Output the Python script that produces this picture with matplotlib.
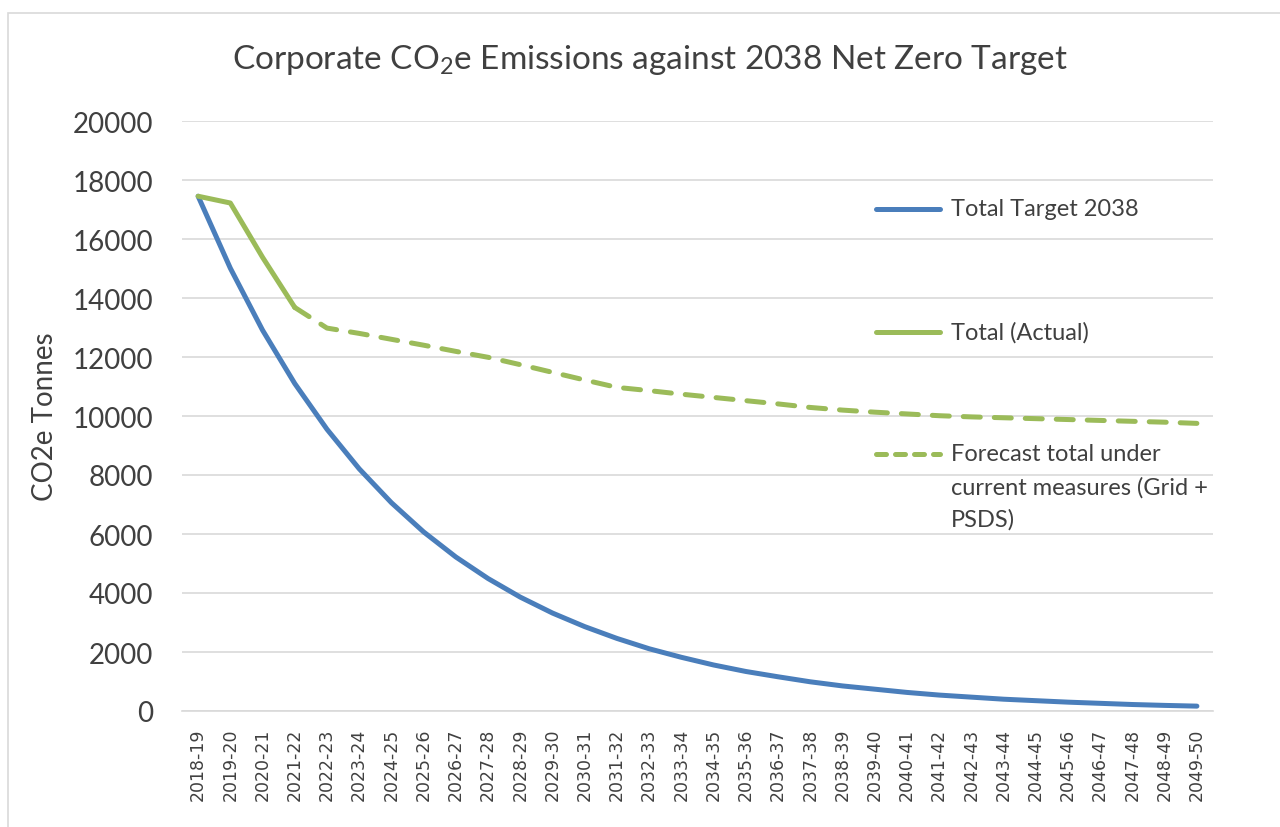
import matplotlib
matplotlib.use('Agg')
import matplotlib.pyplot as plt
from matplotlib.lines import Line2D
from matplotlib.patches import Rectangle

# financial years on the category axis
years = [f"{y}-{str(y + 1)[2:]}" for y in range(2018, 2050)]

# Total Target 2038
target = [17450, 15010, 12910, 11100, 9550, 8210, 7060, 6070, 5220, 4490,
          3860, 3320, 2860, 2460, 2110, 1820, 1560, 1340, 1160, 990,
          850, 740, 630, 540, 470, 400, 350, 300, 260, 220, 190, 165]

# Total (Actual) - only the first four years
actual = [17450, 17220, 15380, 13680] + [None] * 28

# Forecast total under current measures, starting where actual stops
forecast = [None] * 3 + [13680, 12980, 12800, 12600, 12400, 12190, 11990,
                         11740, 11480, 11220, 10970, 10860, 10740, 10630,
                         10520, 10410, 10290, 10200, 10130, 10070, 10010,
                         9970, 9940, 9910, 9880, 9850, 9820, 9790, 9750]

labels = ["Total Target 2038", "Total (Actual)",
          "Forecast total under\ncurrent measures (Grid +\nPSDS)"]

blue = '#4a7ebb'
green = '#9bbb59'
grid_col = '#d9d9d9'
text_col = '#404040'

plt.rcParams['font.family'] = ['Lato', 'DejaVu Sans']
plt.rcParams['mathtext.default'] = 'regular'

W, H = 1280, 828
fig = plt.figure(figsize=(12.8, 8.28), dpi=100)

# light border around the chart area
fig.patches.append(Rectangle((8 / W, -0.1), 1.2, 1 - 14 / H + 0.1, transform=fig.transFigure,
                             fill=False, edgecolor=grid_col, linewidth=1.2))

ax = fig.add_axes([182 / W, 1 - 712 / H, (1213 - 182) / W, (712 - 122) / H])

x = list(range(len(years)))
ax.plot(x, target, color=blue, lw=3.6, solid_capstyle='round', zorder=3)
ax.plot(x, actual, color=green, lw=3.6, solid_capstyle='round', zorder=3)
ax.plot(x, forecast, color=green, lw=3.6, linestyle=(0, (3.4, 2.8)),
        dash_capstyle='round', zorder=3)

ax.set_xlim(-0.5, len(years) - 0.5)
ax.set_ylim(0, 20000)
ax.set_yticks(range(0, 20001, 2000))
ax.set_xticks(x)
ax.set_xticklabels(years, rotation=90, fontsize=12.5, family='DejaVu Sans', color=text_col)
ax.tick_params(axis='y', length=0, pad=21, labelsize=20, labelcolor=text_col)
ax.tick_params(axis='x', length=0, pad=12)
ax.grid(axis='y', color=grid_col, lw=1.2)
ax.set_axisbelow(True)
for s in ['top', 'right', 'left']:
    ax.spines[s].set_visible(False)
ax.spines['bottom'].set_color(grid_col)
ax.spines['bottom'].set_linewidth(1.2)

ax.set_ylabel("CO2e Tonnes", fontsize=20, color=text_col, labelpad=10)

fig.text(650 / W, 1 - 60 / H, "Corporate CO$_2$e Emissions against 2038 Net Zero Target",
         ha='center', va='center', fontsize=24, color=text_col)

# legend drawn on top of the plot area, like the original
handle_y = [210, 333, 455]
styles = [dict(color=blue), dict(color=green),
          dict(color=green, linestyle=(0, (2.0, 1.8)), dash_capstyle='round')]
for py, lab, st in zip(handle_y, labels, styles):
    fig.add_artist(Line2D([876 / W, 940 / W], [1 - py / H] * 2, lw=3.6,
                          solid_capstyle='round', transform=fig.transFigure, **st))
    for i, part in enumerate(lab.split('\n')):
        fig.text(951 / W, 1 - (py + i * 32.5) / H, part, ha='left', va='center',
                 fontsize=17, color=text_col)

fig.savefig('out.png', dpi=100)
